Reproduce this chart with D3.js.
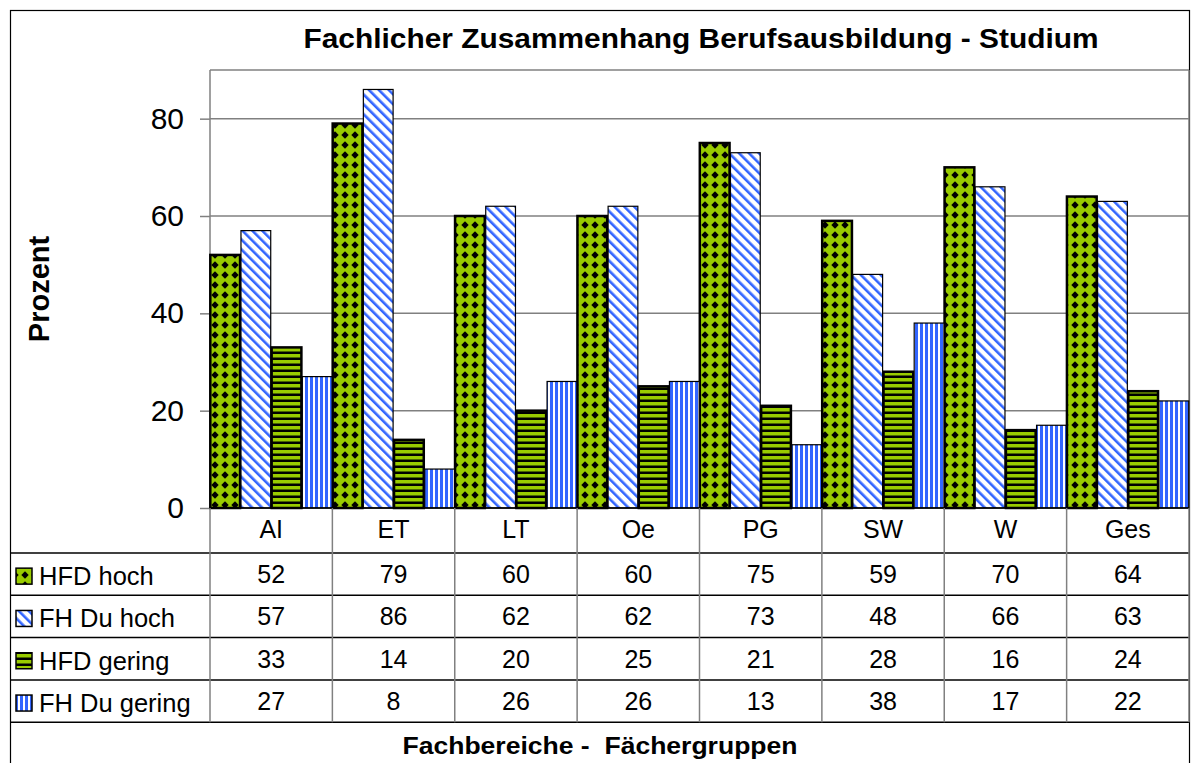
<!DOCTYPE html>
<html>
<head>
<meta charset="utf-8">
<script src="https://cdn.jsdelivr.net/npm/d3@7"></script>
<style>
  body { margin: 0; background: #fff; }
  svg { display: block; font-family: "Liberation Sans", Arial, sans-serif; }
</style>
</head>
<body>
<svg id="chart" width="1192" height="763"></svg>
<script>
// ── Daten ────────────────────────────────────────────────────────
const CATEGORIES = ["AI", "ET", "LT", "Oe", "PG", "SW", "W", "Ges"];
const SERIES = ["HFD hoch", "FH Du hoch", "HFD gering", "FH Du gering"];
const HFD_HOCH     = [52, 79, 60, 60, 75, 59, 70, 64];
const FH_DU_HOCH   = [57, 86, 62, 62, 73, 48, 66, 63];
const HFD_GERING   = [33, 14, 20, 25, 21, 28, 16, 24];
const FH_DU_GERING = [27, 8, 26, 26, 13, 38, 17, 22];
const Y_TICKS = [0, 20, 40, 60, 80];

const VALUES = [HFD_HOCH, FH_DU_HOCH, HFD_GERING, FH_DU_GERING];
const PATTERNS = ["pat-diamond", "pat-diag", "pat-hstripe", "pat-vstripe"];

const GREEN = "#99cc00";
const BLUE = "#3366ff";

// ── Layout ───────────────────────────────────────────────────────
const plot = { left: 210, right: 1189, top: 70, bottom: 508 };
const rowTop = 553, rowH = 42.3;

const svg = d3.select("#chart");

// ── Muster ───────────────────────────────────────────────────────
const defs = svg.append("defs");

const pd = defs.append("pattern").attr("id", "pat-diamond")
  .attr("patternUnits", "userSpaceOnUse").attr("width", 10).attr("height", 10);
pd.append("rect").attr("width", 10).attr("height", 10).attr("fill", GREEN);
pd.append("path").attr("d", "M5,1.3 L8.7,5 L5,8.7 L1.3,5 Z").attr("fill", "#000");

const pg = defs.append("pattern").attr("id", "pat-diag")
  .attr("patternUnits", "userSpaceOnUse").attr("width", 7).attr("height", 7)
  .attr("patternTransform", "rotate(-45)");
pg.append("rect").attr("width", 7).attr("height", 7).attr("fill", "#fff");
pg.append("rect").attr("width", 2.6).attr("height", 7).attr("fill", BLUE);

const ph = defs.append("pattern").attr("id", "pat-hstripe")
  .attr("patternUnits", "userSpaceOnUse").attr("width", 6).attr("height", 6);
ph.append("rect").attr("width", 6).attr("height", 6).attr("fill", GREEN);
ph.append("rect").attr("y", 3.5).attr("width", 6).attr("height", 2.5).attr("fill", "#000");

const pv = defs.append("pattern").attr("id", "pat-vstripe")
  .attr("patternUnits", "userSpaceOnUse").attr("width", 5).attr("height", 5);
pv.append("rect").attr("width", 5).attr("height", 5).attr("fill", "#fff");
pv.append("rect").attr("width", 3).attr("height", 5).attr("fill", BLUE);

// ── Rahmen ───────────────────────────────────────────────────────
svg.append("rect").attr("x", 10.5).attr("y", 10.5).attr("width", 1179).attr("height", 800)
  .attr("fill", "none").attr("stroke", "#000").attr("stroke-width", 1.2);

// ── Skalen ───────────────────────────────────────────────────────
const x = d3.scaleBand().domain(CATEGORIES).range([plot.left, plot.right]).paddingInner(0);
const xs = d3.scaleBand().domain(d3.range(SERIES.length)).range([0, x.bandwidth()])
  .paddingInner(0.03).paddingOuter(0.01);
const y = d3.scaleLinear().domain([0, 90]).range([plot.bottom, plot.top]);

// Gitter
svg.append("g").selectAll("line").data(Y_TICKS.filter(d => d > 0).concat([90]))
  .join("line")
  .attr("x1", plot.left).attr("x2", plot.right)
  .attr("y1", d => y(d)).attr("y2", d => y(d))
  .attr("stroke", "#808080").attr("stroke-width", 1.5);

svg.append("line").attr("x1", plot.right).attr("x2", plot.right)
  .attr("y1", plot.top).attr("y2", plot.bottom).attr("stroke", "#808080").attr("stroke-width", 1.5);

// Y-Achse
const yAxis = d3.axisLeft(y).tickValues(Y_TICKS).tickSize(10).tickPadding(16);
const gy = svg.append("g").attr("transform", `translate(${plot.left},0)`).call(yAxis);
gy.select(".domain").attr("stroke", "#808080").attr("stroke-width", 1.5)
  .attr("d", `M0,${plot.top}V${plot.bottom}`);
gy.selectAll(".tick line").attr("stroke", "#808080").attr("stroke-width", 1.5);
gy.selectAll(".tick text").attr("font-size", 30).attr("fill", "#000")
  .attr("font-family", "Liberation Sans, Arial, sans-serif");

// ── Balken ───────────────────────────────────────────────────────
SERIES.forEach((s, i) => {
  svg.append("g").selectAll("rect").data(VALUES[i]).join("rect")
    .attr("x", (d, j) => x(CATEGORIES[j]) + xs(i))
    .attr("y", d => y(d))
    .attr("width", xs.bandwidth())
    .attr("height", d => y(0) - y(d))
    .attr("fill", `url(#${PATTERNS[i]})`)
    .attr("stroke", "#000")
    .attr("stroke-width", i % 2 === 0 ? 2.5 : 1.2);
});

// ── Datentabelle ─────────────────────────────────────────────────
const tableBottom = rowTop + rowH * SERIES.length;

svg.append("line").attr("x1", plot.left).attr("x2", plot.right)
  .attr("y1", plot.bottom).attr("y2", plot.bottom).attr("stroke", "#000").attr("stroke-width", 1.5);
svg.append("g").selectAll("line").data(d3.range(SERIES.length + 1)).join("line")
  .attr("x1", 10).attr("x2", plot.right)
  .attr("y1", i => rowTop + i * rowH).attr("y2", i => rowTop + i * rowH)
  .attr("stroke", "#000").attr("stroke-width", 1.5);
svg.append("g").selectAll("line").data(CATEGORIES.concat(["end"])).join("line")
  .attr("x1", d => d === "end" ? plot.right : x(d))
  .attr("x2", d => d === "end" ? plot.right : x(d))
  .attr("y1", plot.bottom).attr("y2", tableBottom)
  .attr("stroke", "#808080").attr("stroke-width", 1.5);

// Kategorien
svg.append("g").selectAll("text").data(CATEGORIES).join("text")
  .attr("x", d => x(d) + x.bandwidth() / 2)
  .attr("y", plot.bottom + rowH / 2 + 9)
  .attr("text-anchor", "middle").attr("font-size", 25)
  .text(d => d);

// Zeilen
SERIES.forEach((s, i) => {
  const cy = rowTop + i * rowH + rowH / 2;
  svg.append("rect").attr("x", 16).attr("y", cy - 6).attr("width", 16).attr("height", 16)
    .attr("fill", `url(#${PATTERNS[i]})`).attr("stroke", "#000").attr("stroke-width", 1.5);
  svg.append("text").attr("x", 39).attr("y", cy + 11).attr("font-size", 25.5).text(s);
  svg.append("g").selectAll("text").data(VALUES[i]).join("text")
    .attr("x", (d, j) => x(CATEGORIES[j]) + x.bandwidth() / 2)
    .attr("y", cy + 9)
    .attr("text-anchor", "middle").attr("font-size", 25)
    .text(d => d);
});

// ── Titel ────────────────────────────────────────────────────────
svg.append("text").attr("x", 701).attr("y", 48)
  .attr("text-anchor", "middle").attr("font-size", 28).attr("font-weight", "bold")
  .attr("textLength", 795).attr("lengthAdjust", "spacingAndGlyphs")
  .text("Fachlicher Zusammenhang Berufsausbildung - Studium");

svg.append("text").attr("transform", "translate(49,289) rotate(-90)")
  .attr("text-anchor", "middle").attr("font-size", 29).attr("font-weight", "bold")
  .text("Prozent");

svg.append("text").attr("x", 600).attr("y", 754)
  .attr("text-anchor", "middle").attr("font-size", 24).attr("font-weight", "bold")
  .attr("xml:space", "preserve")
  .attr("textLength", 395).attr("lengthAdjust", "spacingAndGlyphs")
  .text("Fachbereiche -  Fächergruppen");
</script>
</body>
</html>
